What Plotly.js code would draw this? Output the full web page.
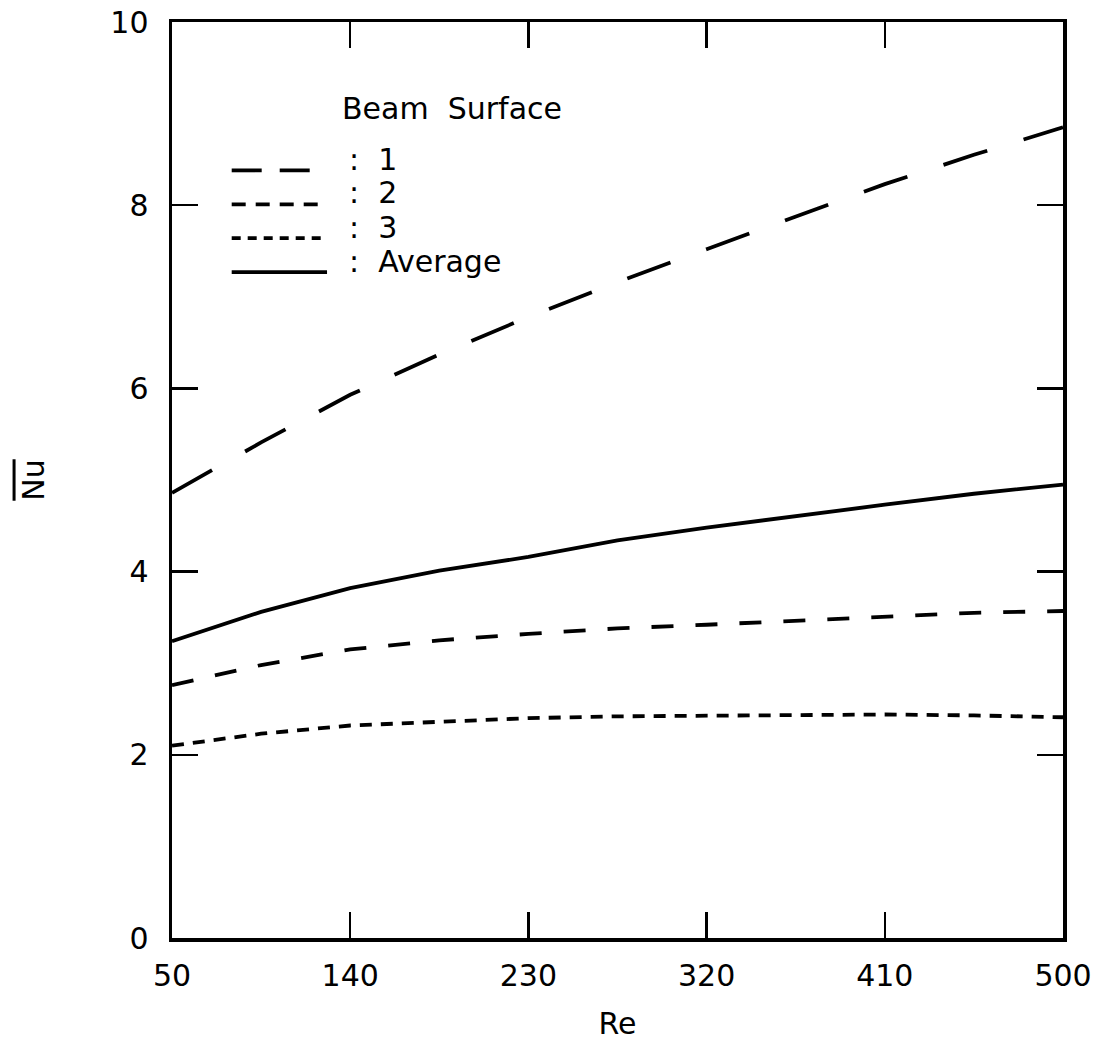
<!DOCTYPE html>
<html>
<head>
<meta charset="utf-8">
<script src="https://cdn.plot.ly/plotly-3.0.1.min.js"></script>
<style>html,body{margin:0;padding:0;background:#fff;}</style>
</head>
<body>
<div id="chart" style="width:1117px;height:1060px;"></div>
<script>
// Reynolds numbers
const re = [50, 95, 140, 185, 230, 275, 320, 365, 410, 455, 500];
// Mean Nusselt number per beam surface
const nu1 = [4.86, 5.41, 5.93, 6.37, 6.78, 7.16, 7.52, 7.87, 8.23, 8.55, 8.85];
const nu2 = [2.76, 2.98, 3.15, 3.25, 3.32, 3.38, 3.42, 3.46, 3.51, 3.55, 3.57];
const nu3 = [2.10, 2.23, 2.32, 2.36, 2.40, 2.42, 2.43, 2.44, 2.44, 2.43, 2.41];
const nuAvg = [3.24, 3.56, 3.82, 4.01, 4.16, 4.34, 4.48, 4.61, 4.73, 4.85, 4.95];
// Tick labels
const xTicks = [50, 140, 230, 320, 410, 500];
const yTicks = [0, 2, 4, 6, 8, 10];
// Legend
const legendTitle = "Beam&#160;&#160;Surface";
const legendLabels = ["1", "2", "3", "Average"];

const FONT = "DejaVu Sans, sans-serif";
const dashes = ["46px,38px", "22px,22px", "12px,9px", "solid"];
const series = [nu1, nu2, nu3, nuAvg];

const traces = series.map((ys, i) => ({
  x: re, y: ys, type: "scatter", mode: "lines",
  line: {color: "#000", width: 3.8, dash: dashes[i]},
  showlegend: false, hoverinfo: "skip"
}));

// legend key layout (paper coords)
const keyDashes = ["30px,18px", "14px,10px", "9px,7px", "solid"];
const keyY = [0.838, 0.801, 0.764, 0.727];
const textY = [0.850, 0.814, 0.776, 0.738];
const shapes = keyY.map((y, i) => ({
  type: "line", xref: "paper", yref: "paper",
  x0: 0.067, x1: 0.174, y0: y, y1: y,
  line: {color: "#000", width: 3.8, dash: keyDashes[i]}
}));
const annotations = [{
  xref: "paper", yref: "paper", x: 0.188, y: 0.906, xanchor: "left", yanchor: "middle",
  text: legendTitle, showarrow: false, font: {family: FONT, size: 30, color: "#000"}
}].concat(legendLabels.map((t, i) => ({
  xref: "paper", yref: "paper", x: 0.196, y: textY[i], xanchor: "left", yanchor: "middle",
  text: ":&#160;&#160;" + t, showarrow: false, font: {family: FONT, size: 30, color: "#000"}
})));

const axisCommon = {
  showgrid: false, zeroline: false, showline: true, linecolor: "#000", linewidth: 3.5,
  mirror: "ticks", ticks: "inside", tickcolor: "#000", tickwidth: 2.5, ticklen: 26,
  tickfont: {family: FONT, size: 30, color: "#000"}
};

const layout = {
  width: 1117, height: 1060,
  margin: {l: 172, r: 54, t: 22, b: 122},
  paper_bgcolor: "#fff", plot_bgcolor: "#fff",
  showlegend: false,
  xaxis: Object.assign({}, axisCommon, {
    range: [50, 500], tickvals: xTicks, ticktext: xTicks.map(String),
    ticklabelstandoff: 8,
    title: {text: "Re", font: {family: FONT, size: 30, color: "#000"}, standoff: 22}
  }),
  yaxis: Object.assign({}, axisCommon, {
    range: [0, 10], tickvals: yTicks, ticktext: yTicks.map(String),
    ticklabelstandoff: 14,
    title: {text: '<span style="text-decoration:overline">Nu</span>', font: {family: FONT, size: 30, color: "#000"}, standoff: 58}
  }),
  shapes: shapes,
  annotations: annotations
};

Plotly.newPlot("chart", traces, layout, {staticPlot: true, displayModeBar: false});
</script>
</body>
</html>
